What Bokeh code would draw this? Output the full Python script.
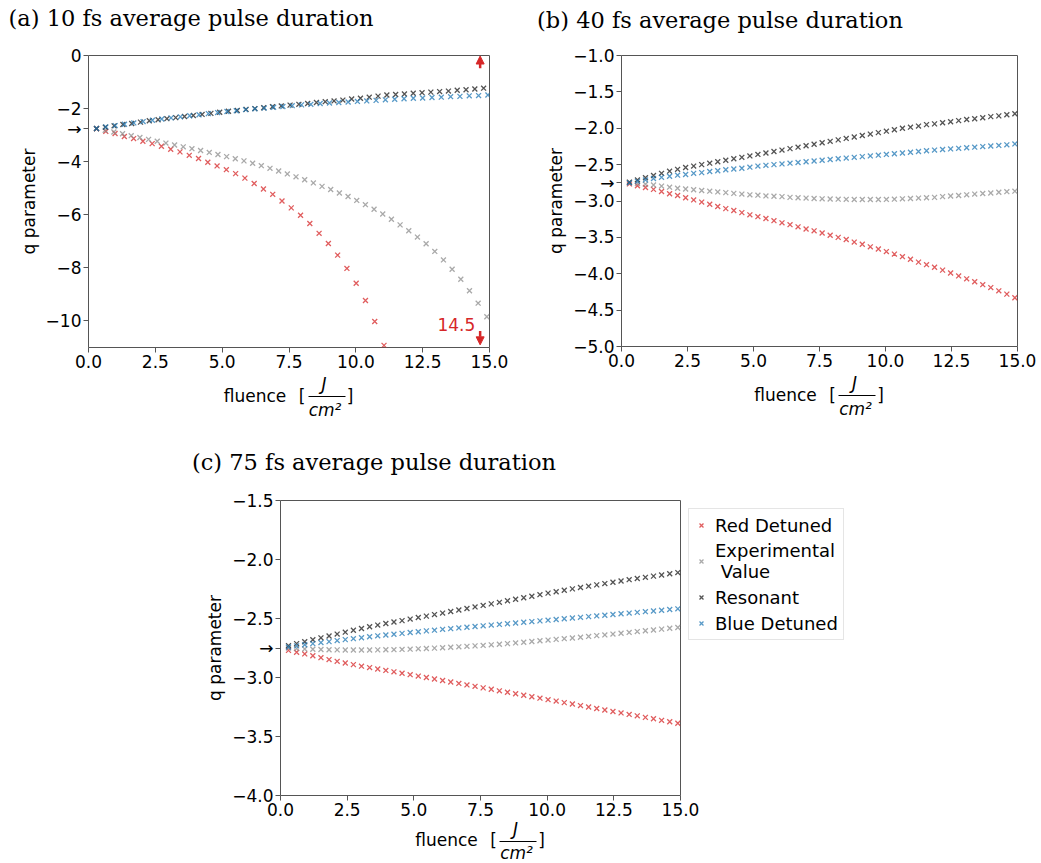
import numpy as np
from bokeh.plotting import figure
from bokeh.models import (Range1d, FixedTicker, Label, Arrow, NormalHead, Legend,
                          LegendItem, Spacer, LinearAxis, CustomJSTickFormatter)
from bokeh.layouts import row, column
from bokeh.embed import file_html
from bokeh.resources import INLINE

# ---------------- data ----------------
x_ticks = [0, 2.5, 5, 7.5, 10, 12.5, 15]
x_tick_labels = ["0.0", "2.5", "5.0", "7.5", "10.0", "12.5", "15.0"]

q_experimental = -2.75
a_y_ticks = [-10, -8, -6, -4, q_experimental, -2, 0]
a_y_tick_labels = ["\u221210", "\u22128", "\u22126", "\u22124", "\u2192", "\u22122", "0"]
b_y_ticks = [-5.0, -4.5, -4.0, -3.5, -3.0, q_experimental, -2.5, -2.0, -1.5, -1.0]
b_y_tick_labels = ["\u22125.0", "\u22124.5", "\u22124.0", "\u22123.5", "\u22123.0", "\u2192",
                   "\u22122.5", "\u22122.0", "\u22121.5", "\u22121.0"]
c_y_ticks = [-4.0, -3.5, -3.0, q_experimental, -2.5, -2.0, -1.5]
c_y_tick_labels = ["\u22124.0", "\u22123.5", "\u22123.0", "\u2192", "\u22122.5", "\u22122.0",
                   "\u22121.5"]

series_names = ["Red Detuned", "Experimental\n Value", "Resonant", "Blue Detuned"]
series_colors = ["#d62728", "#8c8c8c", "#1a1a1a", "#1f77b4"]

# (a) 10 fs  -- fluence sampling grids (J/cm^2)
a_fluence_red = np.linspace(0.3, 14.87, 43)
a_fluence_gray = np.linspace(0.3, 14.9, 46)
a_fluence_black = np.linspace(0.3, 14.78, 45)
a_fluence_blue = np.linspace(0.3, 14.94, 43)

a_red = [-2.76, -2.86, -2.94, -3.05, -3.13, -3.23, -3.32, -3.42, -3.53, -3.63,
         -3.76, -3.88, -4.02, -4.16, -4.30, -4.45, -4.62, -4.82, -5.03, -5.23,
         -5.48, -5.74, -6.02, -6.33, -6.70, -7.08, -7.52, -8.02, -8.58, -9.23,
         -10.02, -10.92, -11.9, -13.0, -14.3, -15.7, -17.3, -19.0, -20.9, -23.0,
         -25.3, -27.8, -30.6]
a_gray = [-2.76, -2.82, -2.88, -2.95, -3.02, -3.09, -3.16, -3.23, -3.30, -3.37,
          -3.44, -3.51, -3.58, -3.65, -3.73, -3.81, -3.89, -3.97, -4.06, -4.15,
          -4.25, -4.35, -4.46, -4.57, -4.68, -4.80, -4.93, -5.05, -5.18, -5.31,
          -5.46, -5.62, -5.79, -5.97, -6.17, -6.38, -6.60, -6.84, -7.09, -7.38,
          -7.70, -8.05, -8.43, -8.86, -9.33, -9.84]
a_black = [-2.75, -2.70, -2.65, -2.60, -2.56, -2.51, -2.46, -2.42, -2.38, -2.34,
           -2.30, -2.26, -2.22, -2.18, -2.14, -2.10, -2.07, -2.03, -2.00, -1.97,
           -1.93, -1.90, -1.87, -1.84, -1.81, -1.77, -1.74, -1.71, -1.68, -1.64,
           -1.61, -1.57, -1.53, -1.49, -1.47, -1.45, -1.42, -1.40, -1.38, -1.36,
           -1.34, -1.31, -1.29, -1.26, -1.23]
a_blue = [-2.75, -2.69, -2.64, -2.59, -2.54, -2.49, -2.44, -2.39, -2.35, -2.31,
          -2.27, -2.23, -2.19, -2.15, -2.11, -2.08, -2.04, -2.01, -1.98, -1.95,
          -1.92, -1.89, -1.86, -1.84, -1.81, -1.79, -1.77, -1.75, -1.73, -1.71,
          -1.69, -1.67, -1.65, -1.63, -1.61, -1.60, -1.58, -1.57, -1.55, -1.54,
          -1.52, -1.51, -1.49]

# (b) 40 fs
b_fluence = np.linspace(0.3, 14.9, 49)
b_red = [-2.765, -2.79, -2.815, -2.84, -2.87, -2.90, -2.925, -2.955, -2.985, -3.015,
         -3.045, -3.075, -3.105, -3.13, -3.16, -3.19, -3.215, -3.24, -3.27, -3.30,
         -3.325, -3.355, -3.385, -3.41, -3.44, -3.47, -3.50, -3.53, -3.565, -3.595,
         -3.63, -3.66, -3.695, -3.73, -3.765, -3.80, -3.84, -3.875, -3.91, -3.95,
         -3.99, -4.03, -4.07, -4.11, -4.15, -4.19, -4.235, -4.28, -4.33]
b_gray = [-2.75, -2.76, -2.77, -2.78, -2.795, -2.81, -2.825, -2.835, -2.845, -2.855,
          -2.865, -2.875, -2.885, -2.895, -2.905, -2.915, -2.92, -2.93, -2.935, -2.94,
          -2.95, -2.955, -2.96, -2.965, -2.97, -2.972, -2.975, -2.977, -2.98, -2.98,
          -2.98, -2.98, -2.978, -2.975, -2.97, -2.965, -2.96, -2.955, -2.95, -2.94,
          -2.932, -2.925, -2.915, -2.905, -2.897, -2.89, -2.88, -2.872, -2.865]
b_black = [-2.74, -2.71, -2.68, -2.65, -2.62, -2.59, -2.565, -2.54, -2.52, -2.50,
           -2.48, -2.46, -2.44, -2.42, -2.40, -2.38, -2.36, -2.34, -2.32, -2.30,
           -2.28, -2.26, -2.24, -2.22, -2.20, -2.18, -2.16, -2.14, -2.12, -2.10,
           -2.08, -2.06, -2.04, -2.02, -2.00, -1.985, -1.97, -1.95, -1.94, -1.925,
           -1.91, -1.895, -1.88, -1.87, -1.855, -1.84, -1.83, -1.815, -1.80]
b_blue = [-2.75, -2.73, -2.71, -2.69, -2.675, -2.66, -2.645, -2.635, -2.62, -2.61,
          -2.595, -2.585, -2.57, -2.56, -2.55, -2.535, -2.52, -2.51, -2.50, -2.49,
          -2.48, -2.47, -2.46, -2.45, -2.44, -2.43, -2.42, -2.41, -2.40, -2.39,
          -2.38, -2.37, -2.36, -2.35, -2.34, -2.33, -2.32, -2.31, -2.30, -2.292,
          -2.284, -2.276, -2.268, -2.26, -2.252, -2.244, -2.236, -2.228, -2.215]

# (c) 75 fs
c_fluence = np.linspace(0.3, 14.9, 49)
c_red = [-2.77, -2.786, -2.80, -2.816, -2.832, -2.848, -2.863, -2.877, -2.891, -2.904,
         -2.916, -2.928, -2.94, -2.952, -2.964, -2.976, -2.988, -3.00, -3.013, -3.025,
         -3.038, -3.05, -3.063, -3.075, -3.088, -3.10, -3.113, -3.125, -3.138, -3.15,
         -3.163, -3.175, -3.188, -3.20, -3.213, -3.225, -3.238, -3.25, -3.263, -3.275,
         -3.288, -3.30, -3.313, -3.325, -3.338, -3.35, -3.363, -3.375, -3.388]
c_gray = [-2.75, -2.754, -2.758, -2.761, -2.763, -2.765, -2.766, -2.767, -2.767, -2.767,
          -2.767, -2.766, -2.765, -2.764, -2.762, -2.76, -2.757, -2.754, -2.751, -2.748,
          -2.744, -2.74, -2.736, -2.732, -2.728, -2.723, -2.718, -2.713, -2.707, -2.701,
          -2.695, -2.689, -2.683, -2.677, -2.671, -2.665, -2.659, -2.652, -2.645, -2.639,
          -2.632, -2.625, -2.618, -2.611, -2.604, -2.597, -2.59, -2.583, -2.576]
c_black = [-2.73, -2.713, -2.697, -2.68, -2.664, -2.648, -2.632, -2.616, -2.60, -2.585,
           -2.57, -2.556, -2.542, -2.53, -2.518, -2.505, -2.492, -2.48, -2.467, -2.454,
           -2.441, -2.428, -2.415, -2.402, -2.389, -2.376, -2.363, -2.35, -2.337, -2.324,
           -2.311, -2.298, -2.285, -2.273, -2.261, -2.249, -2.237, -2.226, -2.215, -2.204,
           -2.193, -2.182, -2.171, -2.161, -2.151, -2.141, -2.131, -2.121, -2.111]
c_blue = [-2.742, -2.732, -2.722, -2.713, -2.704, -2.696, -2.687, -2.679, -2.671, -2.663,
          -2.655, -2.647, -2.64, -2.633, -2.626, -2.619, -2.612, -2.605, -2.599, -2.592,
          -2.586, -2.58, -2.574, -2.568, -2.562, -2.556, -2.55, -2.544, -2.538, -2.532,
          -2.526, -2.52, -2.514, -2.508, -2.502, -2.496, -2.49, -2.484, -2.478, -2.472,
          -2.466, -2.46, -2.454, -2.448, -2.442, -2.436, -2.43, -2.424, -2.418]

SANS = "DejaVu Sans"
SERIF = "DejaVu Serif"
FRAME = "#555555"
RED = "#d62728"


def lookup_formatter(vals, labs):
    return CustomJSTickFormatter(
        args=dict(vals=[float(v) for v in vals], labs=list(labs)),
        code="""
let best = 0;
for (let i = 1; i < vals.length; i++) {
  if (Math.abs(vals[i] - tick) < Math.abs(vals[best] - tick)) best = i;
}
return labs[best];
""")


def text_axis(p, side, positions, labels, font, size, style, standoff,
              bounds=None, line=False):
    if positions:
        fmt = lookup_formatter(positions, labels)
    else:
        fmt = lookup_formatter([0.0], [""])
    ax = LinearAxis(ticker=FixedTicker(ticks=list(positions)), formatter=fmt)
    ax.axis_line_color = "black" if line else None
    ax.axis_line_width = 1
    ax.major_tick_line_color = None
    ax.minor_tick_line_color = None
    ax.major_tick_out = 0
    ax.major_tick_in = 0
    ax.minor_tick_out = 0
    ax.minor_tick_in = 0
    ax.major_label_standoff = standoff
    ax.major_label_text_font = font
    ax.major_label_text_font_size = size
    ax.major_label_text_font_style = style
    ax.major_label_text_color = "black"
    if bounds is not None:
        ax.bounds = bounds
    p.add_layout(ax, side)
    return ax


def make_panel(title, title_px_center, title_standoff, yrange, yticks, ylabels, series,
               fw, fh, left, right, top, bottom, xlab_standoffs):
    p = figure(frame_width=fw, frame_height=fh, x_range=Range1d(0, 15),
               y_range=Range1d(*yrange), min_border_left=left, min_border_right=right,
               min_border_top=top, min_border_bottom=bottom,
               output_backend="svg", toolbar_location=None, title=None)
    p.grid.visible = False
    p.outline_line_color = FRAME
    p.outline_line_width = 1
    p.background_fill_color = "white"
    p.border_fill_color = "white"
    for ax in (p.xaxis[0], p.yaxis[0]):
        ax.axis_line_color = None
        ax.major_tick_line_color = FRAME
        ax.major_tick_out = 5
        ax.major_tick_in = 0
        ax.minor_tick_line_color = None
        ax.major_label_text_font = SANS
        ax.major_label_text_font_size = "17px"
        ax.major_label_text_color = "black"
        ax.major_label_standoff = 2
    p.xaxis[0].ticker = FixedTicker(ticks=x_ticks)
    p.xaxis[0].formatter = lookup_formatter(x_ticks, x_tick_labels)
    p.yaxis[0].ticker = FixedTicker(ticks=yticks)
    p.yaxis[0].formatter = lookup_formatter(yticks, ylabels)
    p.yaxis[0].axis_label = "q parameter"
    p.yaxis[0].axis_label_text_font = SANS
    p.yaxis[0].axis_label_text_font_size = "17px"
    p.yaxis[0].axis_label_text_font_style = "normal"
    p.yaxis[0].axis_label_text_color = "black"
    p.yaxis[0].axis_label_standoff = 4

    sx = fw / 15.0
    cx = 7.5
    # panel title (a text row above the frame)
    text_axis(p, "above", [title_px_center / sx], [title], SERIF, "22.5px", "normal",
              title_standoff)
    # x axis label: fluence [ J / cm^2 ]
    s_j, s_f, s_cm = xlab_standoffs
    text_axis(p, "below", [cx + 35 / sx], ["J"], SANS, "17px", "italic", s_j)
    text_axis(p, "below", [], [], SANS, "17px", "normal", 0,
              bounds=(cx + 19 / sx, cx + 56 / sx), line=True)
    text_axis(p, "below", [cx - 34 / sx, cx + 13 / sx, cx + 61 / sx],
              ["fluence", "[", "]"], SANS, "17px", "normal", s_f)
    text_axis(p, "below", [cx + 36 / sx], ["cm\u00b2"], SANS, "17px", "italic", s_cm)

    rends = []
    for (xs, ys), col in zip(series, series_colors):
        r = p.scatter(list(xs), ys, marker="x", size=7, line_color=col,
                      line_width=1.3, line_alpha=0.75)
        rends.append(r)
    return p, rends


pa, ra = make_panel("(a) 10 fs average pulse duration", 102.5, 25, (-11, 0), a_y_ticks,
                    a_y_tick_labels,
                    [(a_fluence_red, a_red), (a_fluence_gray, a_gray),
                     (a_fluence_black, a_black), (a_fluence_blue, a_blue)],
                    401, 292, 88, 31, 55, 83, (3, -11, -9))
pa.add_layout(Arrow(x_start=14.65, y_start=-0.48, x_end=14.65, y_end=-0.02,
                    end=NormalHead(size=8, fill_color=RED, line_color=RED),
                    line_color=RED, line_width=2.5))
pa.add_layout(Arrow(x_start=14.65, y_start=-10.38, x_end=14.65, y_end=-10.9,
                    end=NormalHead(size=8, fill_color=RED, line_color=RED),
                    line_color=RED, line_width=2.5))
pa.add_layout(Label(x=13.76, y=-10.15, text="14.5", text_align="center",
                    text_baseline="middle", text_font=SANS, text_font_size="17px",
                    text_color=RED))

pb, rb = make_panel("(b) 40 fs average pulse duration", 98.5, 23, (-5, -1), b_y_ticks,
                    b_y_tick_labels,
                    [(b_fluence, b_red), (b_fluence, b_gray),
                     (b_fluence, b_black), (b_fluence, b_blue)],
                    396, 291, 101, 24, 53, 86, (3, -11, -9))

pc, rc = make_panel("(c) 75 fs average pulse duration", 93.5, 26, (-4, -1.5), c_y_ticks,
                    c_y_tick_labels,
                    [(c_fluence, c_red), (c_fluence, c_gray),
                     (c_fluence, c_black), (c_fluence, c_blue)],
                    400, 295, 100, 190, 70, 65, (0, -12, -10))

legend = Legend(items=[LegendItem(label=n, renderers=[r]) for n, r in zip(series_names, rc)],
                location="top_left", margin=8, padding=5, spacing=4,
                glyph_width=14, glyph_height=22, label_height=22, label_standoff=7,
                label_text_font=SANS, label_text_font_size="18px",
                label_text_color="black",
                border_line_color="#cccccc", border_line_width=1,
                background_fill_color="white", background_fill_alpha=1.0)
pc.add_layout(legend, "right")

layout = column(row(pa, pb), row(Spacer(width=180, height=430), pc))

with open("out.html", "w") as f:
    f.write(file_html(layout, INLINE))
